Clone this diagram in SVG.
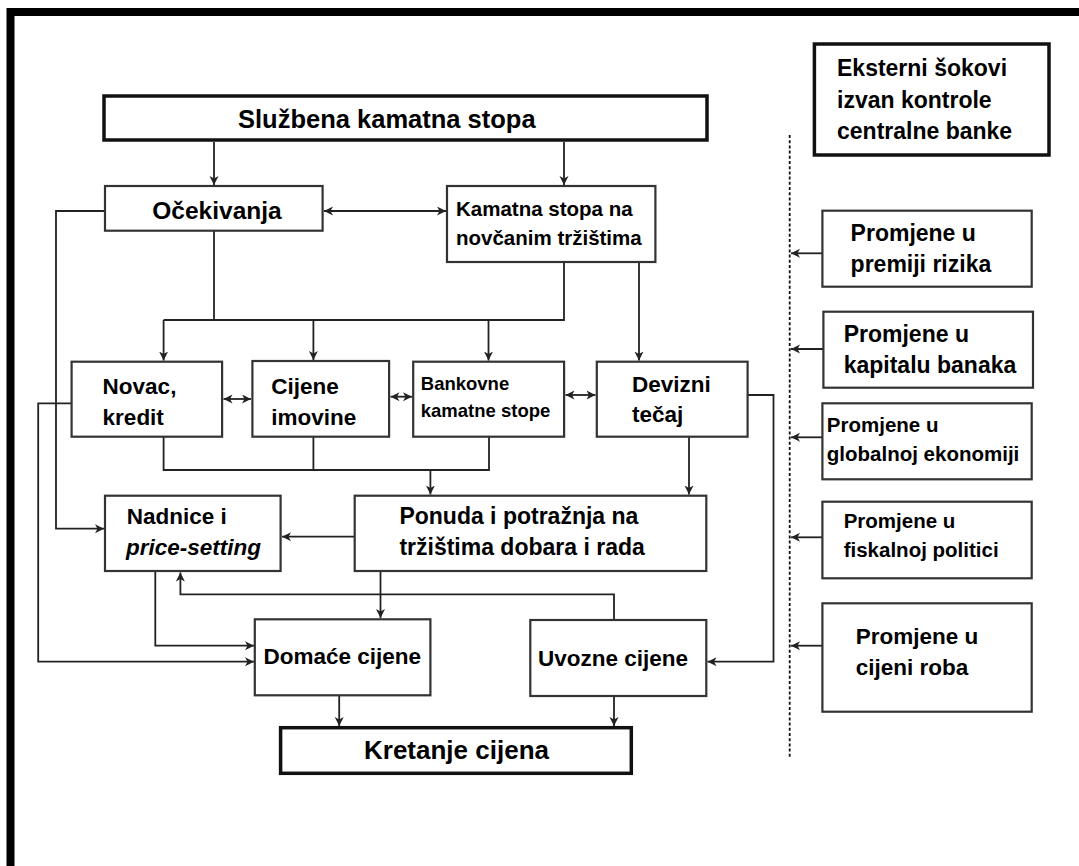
<svg xmlns="http://www.w3.org/2000/svg" width="1079" height="866" viewBox="0 0 1079 866">
<defs>
<marker id="ah" markerUnits="userSpaceOnUse" markerWidth="10" markerHeight="10" refX="9" refY="4.5" orient="auto-start-reverse">
<path d="M0,0 L9,4.5 L0,9 L2.5,4.5 z" fill="#222"/>
</marker>
<style>
.box{fill:#fff;stroke:#333;stroke-width:2.2}
.tbox{fill:#fff;stroke:#111;stroke-width:3.5}
.t{font-family:"Liberation Sans",Arial,sans-serif;font-weight:bold;fill:#000;font-size:22.5px}
.c{fill:none;stroke:#222;stroke-width:1.8}
.a{fill:none;stroke:#222;stroke-width:1.8;marker-end:url(#ah)}
.b{fill:none;stroke:#222;stroke-width:1.8;marker-start:url(#ah);marker-end:url(#ah)}
</style>
</defs>
<rect width="1079" height="866" fill="#fff"/>
<path d="M10.5,866 V12 H1079" fill="none" stroke="#000" stroke-width="8"/>

<g id="connectors">
<line class="a" x1="214" y1="142" x2="214" y2="185"/>
<line class="a" x1="564" y1="142" x2="564" y2="185"/>
<line class="b" x1="324" y1="211" x2="446" y2="211"/>
<path class="c" d="M214,231 V320"/>
<path class="c" d="M564,262 V320 H163.6"/>
<line class="a" x1="163.6" y1="320" x2="163.6" y2="360.5"/>
<line class="a" x1="313.4" y1="320" x2="313.4" y2="360"/>
<line class="a" x1="488.5" y1="320" x2="488.5" y2="360.5"/>
<line class="a" x1="639" y1="262" x2="639" y2="360.5"/>
<line class="b" x1="223.5" y1="399" x2="251" y2="399"/>
<line class="b" x1="390.5" y1="396.7" x2="412" y2="396.7"/>
<line class="b" x1="565.5" y1="395" x2="595.5" y2="395"/>
<path class="c" d="M163.6,437 V470 H489 V437 M313.4,437 V470"/>
<line class="a" x1="430.4" y1="470" x2="430.4" y2="494.5"/>
<line class="a" x1="689" y1="437" x2="689" y2="494.5"/>
<path class="a" d="M105,211 H56 V528.7 H104"/>
<line class="a" x1="354.7" y1="536.7" x2="282" y2="536.7"/>
<path class="a" d="M71.6,403.3 H38.2 V661.7 H254"/>
<path class="a" d="M155.3,571 V645.7 H254"/>
<line class="a" x1="380.5" y1="571" x2="380.5" y2="618"/>
<path class="a" d="M614,620 V594.3 H180.4 V572.5"/>
<path class="a" d="M747.6,395 H773.5 V661.7 H707.5"/>
<line class="a" x1="339.2" y1="695.3" x2="339.2" y2="726"/>
<line class="a" x1="614" y1="696" x2="614" y2="726"/>
<line x1="789.7" y1="135" x2="789.7" y2="757" stroke="#111" stroke-width="1.8" stroke-dasharray="3,2.2"/>
<line class="a" x1="822.4" y1="253.3" x2="791" y2="253.3"/>
<line class="a" x1="823.4" y1="349" x2="791" y2="349"/>
<line class="a" x1="822.4" y1="437.3" x2="791" y2="437.3"/>
<line class="a" x1="822.4" y1="537.3" x2="791" y2="537.3"/>
<line class="a" x1="822.4" y1="645.7" x2="791" y2="645.7"/>
</g>

<g id="sluzbena">
<rect class="tbox" x="104" y="96" width="603" height="44"/>
<text class="t" x="238" y="128" style="font-size:25.5px">Službena kamatna stopa</text>
</g>
<g id="ocekivanja">
<rect class="box" x="105" y="186" width="217.6" height="44.7"/>
<text class="t" x="217" y="219" text-anchor="middle" style="font-size:24.5px">Očekivanja</text>
</g>
<g id="kamatna">
<rect class="box" x="447" y="186" width="208.4" height="76"/>
<text class="t" x="456" y="215.5" style="font-size:20.5px">Kamatna stopa na</text>
<text class="t" x="456" y="244.5" style="font-size:20.5px">novčanim tržištima</text>
</g>
<g id="eksterni">
<rect class="tbox" x="814.4" y="44" width="234.6" height="111"/>
<text class="t" x="837" y="76" style="font-size:23px">Eksterni šokovi</text>
<text class="t" x="837" y="107.7" style="font-size:23px">izvan kontrole</text>
<text class="t" x="837" y="139.3" style="font-size:23px">centralne banke</text>
</g>
<g id="novac">
<rect class="box" x="71.6" y="361.7" width="150.5" height="75"/>
<text class="t" x="102.6" y="394.3">Novac,</text>
<text class="t" x="102.6" y="425">kredit</text>
</g>
<g id="cijene-imovine">
<rect class="box" x="252.4" y="361" width="136.7" height="75.7"/>
<text class="t" x="271.3" y="394.3">Cijene</text>
<text class="t" x="271.3" y="425">imovine</text>
</g>
<g id="bankovne">
<rect class="box" x="413.2" y="361.7" width="150.9" height="75"/>
<text class="t" x="420.8" y="390" style="font-size:18.5px">Bankovne</text>
<text class="t" x="420.8" y="417.3" style="font-size:18.5px">kamatne stope</text>
</g>
<g id="devizni">
<rect class="box" x="596.8" y="361.7" width="150.8" height="75"/>
<text class="t" x="632" y="391.7">Devizni</text>
<text class="t" x="632" y="421.7">tečaj</text>
</g>
<g id="nadnice">
<rect class="box" x="105" y="495.7" width="175.6" height="75.3"/>
<text class="t" x="126.7" y="524">Nadnice i</text>
<text class="t" x="126" y="555" font-style="italic">price-setting</text>
</g>
<g id="ponuda">
<rect class="box" x="354.7" y="495.7" width="351.6" height="75.3"/>
<text class="t" x="399.4" y="524" style="font-size:23px">Ponuda i potražnja na</text>
<text class="t" x="399.4" y="555" style="font-size:23px">tržištima dobara i rada</text>
</g>
<g id="domace">
<rect class="box" x="254.8" y="619.3" width="175.6" height="76"/>
<text class="t" x="263.4" y="664.3">Domaće cijene</text>
</g>
<g id="uvozne">
<rect class="box" x="530.3" y="620" width="176" height="76"/>
<text class="t" x="538" y="666">Uvozne cijene</text>
</g>
<g id="kretanje">
<rect class="tbox" x="280.6" y="727.7" width="350.7" height="45.6"/>
<text class="t" x="364" y="759.3" style="font-size:26px">Kretanje cijena</text>
</g>
<g id="premija">
<rect class="box" x="822.4" y="210.7" width="209.3" height="76"/>
<text class="t" x="850.6" y="240.7" style="font-size:23px">Promjene u</text>
<text class="t" x="850.6" y="271.7" style="font-size:23px">premiji rizika</text>
</g>
<g id="kapital">
<rect class="box" x="823.4" y="311.7" width="209.6" height="76"/>
<text class="t" x="843.7" y="341.7" style="font-size:23px">Promjene u</text>
<text class="t" x="843.7" y="372.7" style="font-size:23px">kapitalu banaka</text>
</g>
<g id="globalna">
<rect class="box" x="822.4" y="403.3" width="209.3" height="76"/>
<text class="t" x="826.8" y="431.7" style="font-size:20.5px">Promjene u</text>
<text class="t" x="826.8" y="461" style="font-size:20.5px">globalnoj ekonomiji</text>
</g>
<g id="fiskalna">
<rect class="box" x="822.4" y="501.7" width="209.3" height="76.6"/>
<text class="t" x="843.7" y="528.3" style="font-size:20.5px">Promjene u</text>
<text class="t" x="843.7" y="556.7" style="font-size:20.5px">fiskalnoj politici</text>
</g>
<g id="roba">
<rect class="box" x="822.4" y="603.3" width="209.3" height="108.4"/>
<text class="t" x="855.8" y="644" style="font-size:22.5px">Promjene u</text>
<text class="t" x="855.8" y="675" style="font-size:22.5px">cijeni roba</text>
</g>
</svg>
